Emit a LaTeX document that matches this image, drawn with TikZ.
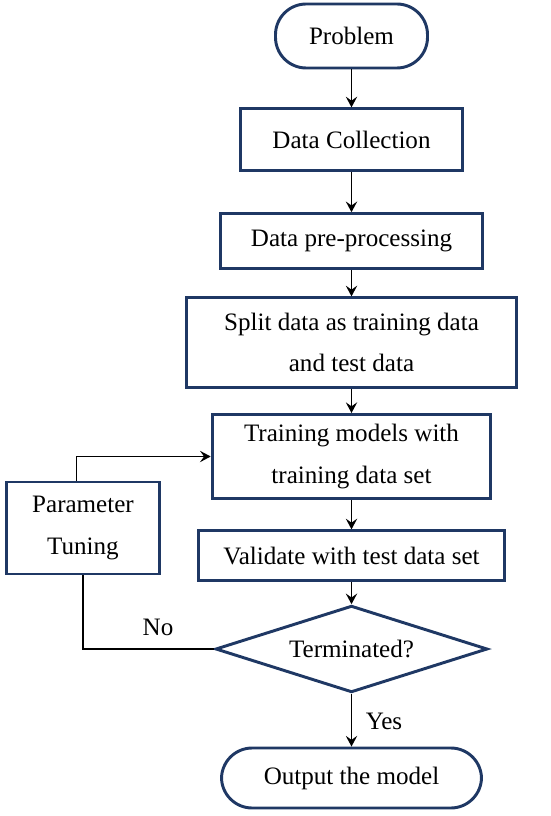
\documentclass[tikz,border=0pt]{standalone}
\usepackage{fontspec}
\setmainfont{Liberation Serif}
\usetikzlibrary{shapes.geometric,arrows.meta}
\definecolor{boxblue}{RGB}{31,56,100}
\begin{document}
\begin{tikzpicture}[x=0.75pt, y=-0.75pt, every node/.style={font=\fontsize{18.8}{31}\selectfont}]
  \tikzstyle{proc}=[draw=boxblue,line width=2.2pt,align=center,inner sep=2pt]
  \tikzstyle{term}=[proc,rounded corners=23pt]
  \tikzstyle{flow}=[line width=1.1pt,-{Stealth[length=8pt,width=8.5pt,inset=3pt]}]
  \useasboundingbox (0,0) rectangle (550,816);
  \node[term,minimum width=114pt,minimum height=48pt] (prob) at (351.5,36) {Problem};
  \node[proc,minimum width=166pt,minimum height=46pt] (coll) at (351.5,139.5) {Data Collection};
  \node[proc,minimum width=197pt,minimum height=41pt] (prep) at (351.5,241) {Data pre-processing};
  \node[proc,minimum width=248pt,minimum height=67pt] (split) at (351.5,342.5) {Split data as training data\\and test data};
  \node[proc,minimum width=209pt,minimum height=63pt] (train) at (351.5,456.5) {Training models with\\training data set};
  \node[proc,minimum width=115pt,minimum height=69pt] (param) at (83,528) {Parameter\\Tuning};
  \node[proc,minimum width=230pt,minimum height=37pt] (valid) at (351.5,555.5) {Validate with test data set};
  \node[proc,diamond,aspect=3.1,inner sep=0pt,minimum width=204pt,minimum height=65pt] (stop) at (351.5,649) {Terminated?};
  \node[term,minimum width=195pt,minimum height=45pt] (out) at (351.5,778) {Output the model};
  \draw[flow] (prob) -- (coll);
  \draw[flow] (coll) -- (prep);
  \draw[flow] (prep) -- (split);
  \draw[flow] (split) -- (train);
  \draw[flow] (train) -- (valid);
  \draw[flow] (valid) -- (stop);
  \draw[flow] (stop) -- (out);
  \draw[flow] ([xshift=-5pt]param.north) |- (train.west);
  \draw[line width=1.1pt] (param.south) |- (stop.west);
  \node (no) at (158,627) {No};
  \node (yes) at (384,721) {Yes};
\end{tikzpicture}
\end{document}
